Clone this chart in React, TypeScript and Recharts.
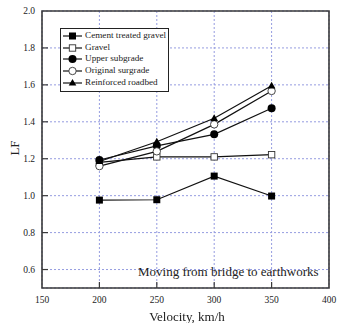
import { LineChart, Line, XAxis, YAxis, CartesianGrid, ReferenceArea } from "recharts";

// ─── DATA ─────────────────────────────────────────────────────────────────────

const velocity = [200, 250, 300, 350];
const cementTreatedGravel = [0.976, 0.978, 1.106, 0.998];
const gravel = [1.18, 1.21, 1.21, 1.222];
const upperSubgrade = [1.193, 1.27, 1.332, 1.473];
const originalSurgrade = [1.16, 1.24, 1.386, 1.567];
const reinforcedRoadbed = [1.185, 1.292, 1.419, 1.595];

const xTicks = [150, 200, 250, 300, 350, 400];
const yTicks = [0.6, 0.8, 1.0, 1.2, 1.4, 1.6, 1.8, 2.0];

const data = velocity.map((v, i) => ({
  v,
  ctg: cementTreatedGravel[i],
  gravel: gravel[i],
  upper: upperSubgrade[i],
  orig: originalSurgrade[i],
  reinf: reinforcedRoadbed[i],
}));

// ─── STYLE ────────────────────────────────────────────────────────────────────

const FONT = "'Liberation Serif', serif";
const AXIS = "#3a3a3a";
const GRID = "#959ce0";
const LINE = "#111";

type Shape = "square" | "squareOpen" | "circle" | "circleOpen" | "triangle";

function Marker({ cx, cy, shape }: { cx: number; cy: number; shape: Shape }) {
  if (cx == null || cy == null) return null;
  switch (shape) {
    case "square":
      return <rect x={cx - 3.5} y={cy - 3.5} width={7} height={7} fill="#000" />;
    case "squareOpen":
      return <rect x={cx - 3.2} y={cy - 3.2} width={6.4} height={6.4} fill="#fff" stroke="#333" strokeWidth={0.9} />;
    case "circle":
      return <circle cx={cx} cy={cy} r={4} fill="#000" />;
    case "circleOpen":
      return <circle cx={cx} cy={cy} r={3.7} fill="#fff" stroke="#333" strokeWidth={0.9} />;
    case "triangle":
      return <path d={`M${cx},${cy - 4} L${cx + 3.8},${cy + 2.6} L${cx - 3.8},${cy + 2.6} Z`} fill="#000" />;
  }
}

const SERIES: { key: string; name: string; shape: Shape }[] = [
  { key: "ctg", name: "Cement treated gravel", shape: "square" },
  { key: "gravel", name: "Gravel", shape: "squareOpen" },
  { key: "upper", name: "Upper subgrade", shape: "circle" },
  { key: "orig", name: "Original surgrade", shape: "circleOpen" },
  { key: "reinf", name: "Reinforced roadbed", shape: "triangle" },
];

// y tick: label + short inward tick mark (tick x sits 8px left of the axis)
function YTick({ x, y, payload }: any) {
  const edge = payload.value >= 2.0;
  return (
    <g>
      {!edge && <line x1={x + 8} x2={x + 14} y1={y} y2={y} stroke={AXIS} strokeWidth={1.2} />}
      <text x={x + 1} y={y} dy={3.3} textAnchor="end" style={{ fontFamily: FONT }} fontSize={9.5} fill="#222">
        {payload.value.toFixed(1)}
      </text>
    </g>
  );
}

// x tick: label + short inward tick mark
function XTick({ x, y, payload }: any) {
  const edge = payload.value === 150 || payload.value === 400;
  return (
    <g>
      {!edge && <line x1={x} x2={x} y1={y - 8} y2={y - 14} stroke={AXIS} strokeWidth={1.2} />}
      <text x={x} y={y} dy={7} textAnchor="middle" style={{ fontFamily: FONT }} fontSize={9.5} fill="#222">
        {payload.value}
      </text>
    </g>
  );
}

function LegendBox() {
  return (
    <div
      style={{
        position: "absolute",
        left: 60,
        top: 28,
        border: "1px solid #222",
        background: "#fff",
        padding: "1px 2px 2px 1px",
        fontFamily: FONT,
        fontSize: 9.2,
        lineHeight: "11.7px",
        color: "#222",
      }}
    >
      {SERIES.map((s) => (
        <div key={s.key} style={{ display: "flex", alignItems: "center", whiteSpace: "nowrap" }}>
          <svg width={21} height={10} style={{ marginRight: 2 }}>
            <line x1={1} x2={20} y1={5} y2={5} stroke={LINE} strokeWidth={1.2} />
            <Marker cx={10.5} cy={5} shape={s.shape} />
          </svg>
          {s.name}
        </div>
      ))}
    </div>
  );
}

export default function App() {
  return (
    <div style={{ position: "fixed", left: 0, top: 0, width: 337, height: 323, background: "#fff" }}>
      <LineChart width={337} height={323} data={data} margin={{ top: 11, right: 8, bottom: 0, left: 0 }}>
        <CartesianGrid stroke={GRID} strokeDasharray="2 2" strokeWidth={1} />
        <XAxis
          dataKey="v"
          type="number"
          domain={[150, 400]}
          ticks={xTicks}
          height={35}
          axisLine={false}
          tickLine={false}
          tick={<XTick />}
          interval={0}
        />
        <YAxis
          type="number"
          domain={[0.5, 2.0]}
          ticks={yTicks}
          width={42}
          axisLine={false}
          tickLine={false}
          tick={<YTick />}
          interval={0}
        />
        <ReferenceArea x1={150} x2={400} y1={0.5} y2={2.0} fill="none" stroke={AXIS} strokeWidth={1.6} ifOverflow="visible" />
        {SERIES.map((s) => (
          <Line
            key={s.key}
            dataKey={s.key}
            name={s.name}
            stroke={LINE}
            strokeWidth={1.2}
            isAnimationActive={false}
            dot={(p: any) => <Marker key={`${s.key}-${p.index}`} cx={p.cx} cy={p.cy} shape={s.shape} />}
            activeDot={false}
          />
        ))}
      </LineChart>
      <LegendBox />
      <div
        style={{
          position: "absolute",
          left: 138,
          top: 264,
          fontFamily: FONT,
          fontSize: 13,
          color: "#222",
          whiteSpace: "nowrap",
        }}
      >
        Moving from bridge to earthworks
      </div>
      <div
        style={{
          position: "absolute",
          left: 0,
          width: 374,
          top: 309,
          textAlign: "center",
          fontFamily: FONT,
          fontSize: 13,
          color: "#222",
        }}
      >
        Velocity, km/h
      </div>
      <div
        style={{
          position: "absolute",
          left: 7,
          top: 140,
          transform: "rotate(-90deg)",
          fontFamily: FONT,
          fontSize: 13,
          color: "#222",
        }}
      >
        LF
      </div>
    </div>
  );
}
